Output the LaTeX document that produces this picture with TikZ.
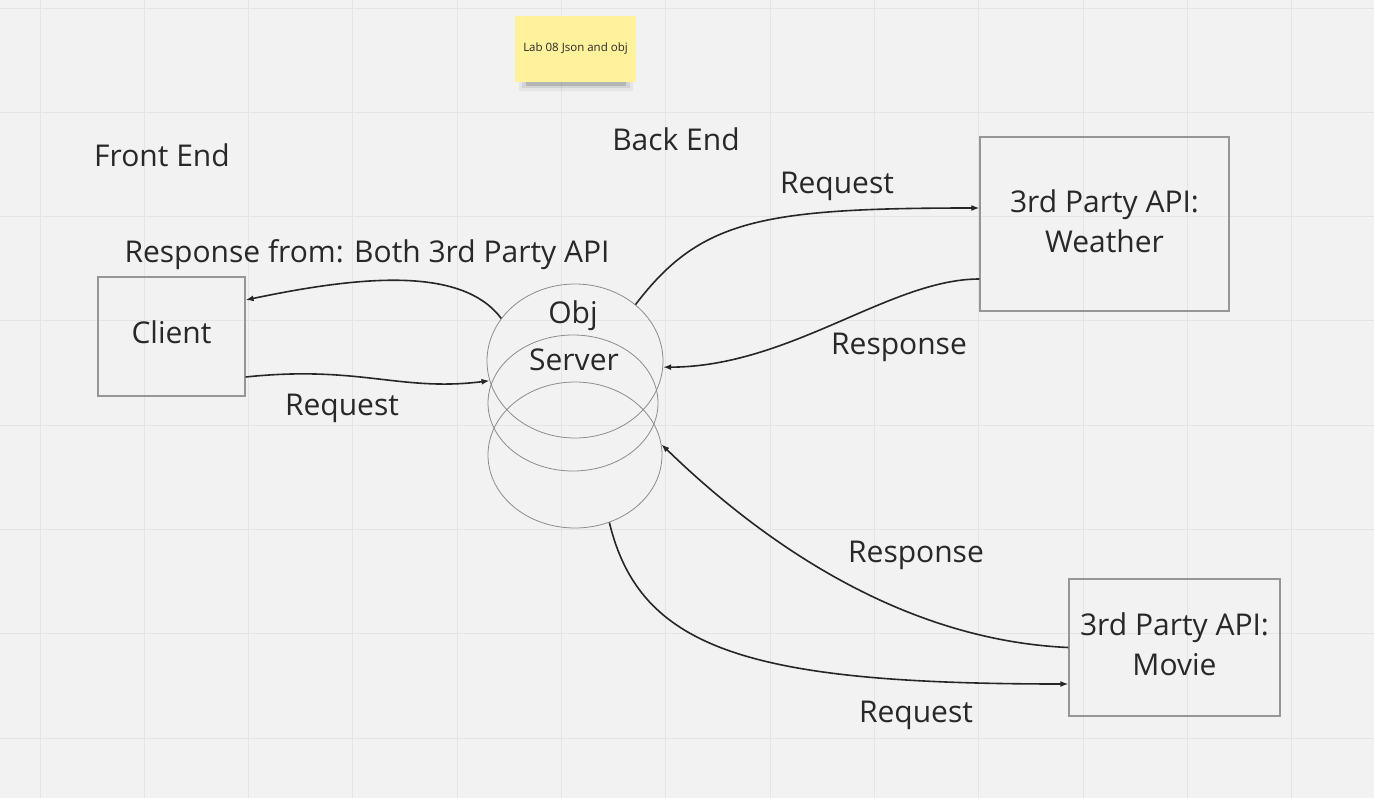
\documentclass[tikz,border=0pt]{standalone}
\usepackage{fontspec}
\setmainfont{Open Sans}
\usetikzlibrary{arrows.meta,shapes.geometric,calc}
\definecolor{bg}{RGB}{242,242,242}
\definecolor{gridc}{RGB}{228,228,228}
\definecolor{boxc}{RGB}{150,150,150}
\definecolor{ellc}{RGB}{140,140,140}
\definecolor{txt}{RGB}{40,40,40}
\definecolor{sticky}{RGB}{254,242,156}
\tikzset{
 lbl/.style={text=txt,font=\fontsize{30}{38}\selectfont,inner sep=0pt},
 box/.style={draw=boxc,line width=1.2pt,rectangle,text=txt,font=\fontsize{30}{40}\selectfont,align=center,inner sep=0pt},
 db/.style={draw=ellc,line width=0.8pt,ellipse,inner sep=0pt},
 conn/.style={draw=black!85,line width=1.6pt,-{Latex[length=8pt,width=6pt]}},
 note/.style={fill=sticky,rectangle,inner sep=0pt,minimum width=121pt,minimum height=66pt,text=txt,font=\fontsize{11.5}{13}\selectfont},
}
\begin{document}
\begin{tikzpicture}[x=1pt,y=-1pt]
\fill[bg] (0,0) rectangle (1374,798);
\useasboundingbox (0,0) rectangle (1374,798);
\foreach \i in {0,...,12} \draw[gridc,line width=1pt] (40+104.3*\i,0) -- (40+104.3*\i,798);
\foreach \j in {0,...,7} \draw[gridc,line width=1pt] (0,8+104.3*\j) -- (1374,8+104.3*\j);

% sticky note with shadow
\fill[black,opacity=0.05] (519,70) rectangle (633,91);
\fill[black,opacity=0.08] (522,72) rectangle (630,88);
\fill[black,opacity=0.14] (526,74) rectangle (626,86);
\node[note] (sticky) at (575.5,49) {Lab 08 Json and obj};

% titles
\node[lbl] (front) at (162,155) {Front End};
\node[lbl] (back) at (676,139) {Back End};

% boxes
\node[box,minimum width=147pt,minimum height=119pt,text depth=8pt] (client) at (171.5,336.5) {Client};
\node[box,minimum width=249pt,minimum height=174pt,text depth=6pt] (weather) at (1104.5,224) {3rd Party API:\\Weather};
\node[box,minimum width=211pt,minimum height=137pt,text depth=6pt] (movie) at (1174.5,647.5) {3rd Party API:\\Movie};

% server ellipses
\node[db,minimum width=176pt,minimum height=154pt] (e1) at (575,361) {};
\node[db,minimum width=170pt,minimum height=136pt] (e2) at (573,403) {};
\node[db,minimum width=174pt,minimum height=146pt] (e3) at (575,455) {};
\node[lbl] (obj) at (573,316) {Obj};
\node[lbl] (server) at (574,360) {Server};

% connectors
\draw[conn] (e1.150) .. controls (462,266) and (360,276) .. ([yshift=36.5pt]client.east);
\draw[conn] ([yshift=-40.5pt]client.east) .. controls (360,365) and (400,392) .. (e1.193);
\draw[conn] (e1.43) .. controls (700,220) and (760,208) .. ([yshift=16pt]weather.west);
\draw[conn] ([yshift=-55pt]weather.west) .. controls (890,279) and (790,367) .. (e1.-4);
\draw[conn] (movie.west) .. controls (900,640) and (760,540) .. (e3.7);
\draw[conn] (e3.-63) .. controls (640,650) and (750,684) .. ([yshift=-36.5pt]movie.west);

% connector labels
\node[lbl] (l1) at (367,255) {Response from: Both 3rd Party API};
\node[lbl] (l2) at (342,408) {Request};
\node[lbl] (l3) at (837,186) {Request};
\node[lbl] (l4) at (899,347) {Response};
\node[lbl] (l5) at (916,555) {Response};
\node[lbl] (l6) at (916,715) {Request};
\end{tikzpicture}
\end{document}
